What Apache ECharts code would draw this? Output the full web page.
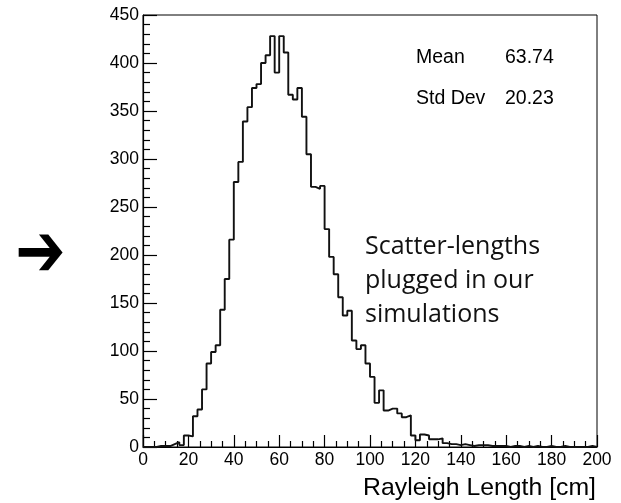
<!DOCTYPE html>
<html><head><meta charset="utf-8">
<script src="https://cdn.jsdelivr.net/npm/echarts@6/dist/echarts.min.js"></script>
<style>html,body{margin:0;padding:0;background:#fff}#c{width:621px;height:503px}</style>
</head><body><div id="c"></div>
<script>
// Histogram of Rayleigh scattering lengths, 2 cm bins from 0 to 200
const xMin = 0, xMax = 200, binWidth = 2;
const counts = [
  0,0,0,1,1,1,3,5,2,12,
  11,32,39,60,87,99,106,143,175,216,
  276,297,339,354,374,378,400,408,428,390,
  428,411,367,362,374,344,305,271,269,272,
  227,198,180,156,137,142,111,102,106,87,
  73,46,59,38,40,40,35,31,33,12,
  7,13,12,8,8,9,4,3,3,2,
  3,2,1,2,2,2,1,1,1,1,
  0,1,1,0,1,0,1,0,0,1,
  0,0,1,0,0,0,0,0,1,0
];
const yMin = 0, yMax = 450, yStep = 50, xStep = 20;
const statLabels = ['Mean', 'Std Dev'];
const statValues = ['63.74', '20.23'];
const xTitle = 'Rayleigh Length [cm]';
const noteLines = ['Scatter-lengths', 'plugged in our', 'simulations'];
const arrowGlyph = '\u2794';

const histData = counts.map((v, i) => [xMin + i * binWidth, v]);
histData.push([xMax, counts[counts.length - 1]]);

const chart = echarts.init(document.getElementById('c'), null, {renderer: 'canvas'});
const tickFont = {fontFamily: 'Liberation Sans', fontSize: 17.5, color: '#000'};

const graphics = [];
graphics.push({type: 'text', x: 40.5, y: 256.5, scaleY: 1.25, originX: 0, originY: 0,
  style: {text: arrowGlyph, font: 'bold 60px "DejaVu Sans"', fill: '#000', align: 'center', verticalAlign: 'middle'}});
noteLines.forEach((t, i) => graphics.push({type: 'text', x: 365, y: 247 + i * 34,
  style: {text: t, font: '25px "Open Sans"', fill: '#111', verticalAlign: 'middle', align: 'left'}}));
statLabels.forEach((t, i) => {
  graphics.push({type: 'text', x: 416, y: 58 + i * 40.5, style: {text: t, font: '19.5px "Liberation Sans"', fill: '#000', verticalAlign: 'middle'}});
  graphics.push({type: 'text', x: 505, y: 58 + i * 40.5, style: {text: statValues[i], font: '19.5px "Liberation Sans"', fill: '#000', verticalAlign: 'middle'}});
});
graphics.push({type: 'text', x: 596, y: 488.5, style: {text: xTitle, font: '24.8px "Liberation Sans"', fill: '#000', align: 'right', verticalAlign: 'middle'}});

chart.setOption({
  animation: false,
  backgroundColor: '#fff',
  grid: {left: 143, top: 15, width: 454, height: 432, show: true, borderColor: '#000', borderWidth: 1, backgroundColor: 'transparent'},
  xAxis: {
    type: 'value', min: xMin, max: xMax, interval: xStep,
    axisLine: {lineStyle: {color: '#000', width: 1.2}},
    axisTick: {inside: true, length: 12, lineStyle: {color: '#000', width: 1.2}},
    minorTick: {show: true, splitNumber: 4, length: 6, lineStyle: {color: '#000', width: 1.2}},
    splitLine: {show: false},
    axisLabel: Object.assign({margin: 4, showMinLabel: true, showMaxLabel: true}, tickFont)
  },
  yAxis: {
    type: 'value', min: yMin, max: yMax, interval: yStep,
    axisLine: {lineStyle: {color: '#000', width: 1.2}},
    axisTick: {inside: true, length: 14, lineStyle: {color: '#000', width: 1.2}},
    minorTick: {show: true, splitNumber: 5, length: 7, lineStyle: {color: '#000', width: 1.2}},
    splitLine: {show: false},
    axisLabel: Object.assign({margin: 4, showMinLabel: true, showMaxLabel: true}, tickFont)
  },
  series: [{
    type: 'line', step: 'end', data: histData, symbol: 'none', clip: true,
    lineStyle: {color: '#111', width: 1.9}
  }],
  graphic: graphics
});
</script></body></html>
